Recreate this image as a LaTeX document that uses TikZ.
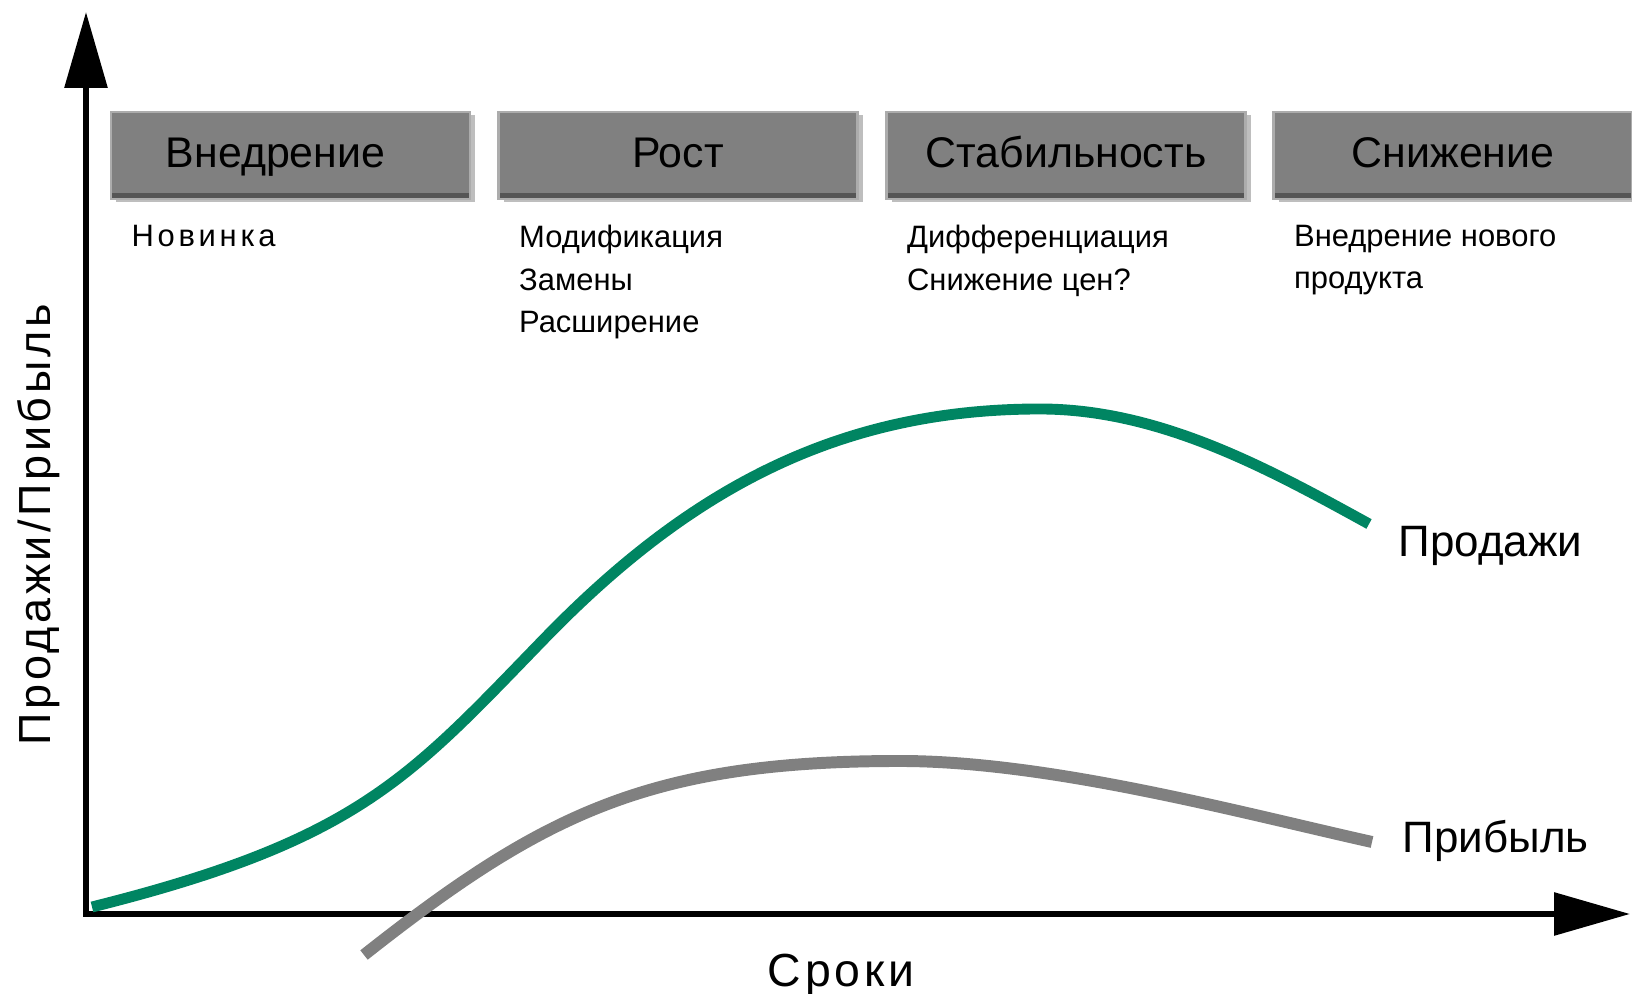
\documentclass[tikz,border=0pt]{standalone}
\usepackage{fontspec}
\setmainfont{Liberation Sans}
\newfontfamily\spacedfont[LetterSpace=8]{Liberation Sans}
\newfontfamily\widefont[LetterSpace=12]{Liberation Sans}
\usetikzlibrary{arrows.meta,positioning,shadows}
\definecolor{salesGreen}{RGB}{0,133,98}
\definecolor{profitGray}{RGB}{128,128,128}
\definecolor{phaseGray}{RGB}{128,128,128}
\definecolor{phaseDark}{RGB}{85,85,85}
\definecolor{phaseEdge}{RGB}{172,172,172}
\definecolor{phaseShadow}{RGB}{190,190,190}

\begin{document}
\begin{tikzpicture}[
    phase/.style={fill=phaseGray, draw=phaseEdge, line width=0.6pt, minimum width=3.59cm, minimum height=0.87cm, inner sep=0pt,
        text height=0.33cm, text depth=0.09cm, font=\fontsize{12.2}{14}\selectfont,
        drop shadow={shadow xshift=0.05cm, shadow yshift=-0.03cm, fill=phaseShadow, opacity=1},
        path picture={\fill[phaseDark] (path picture bounding box.south west) rectangle ([yshift=0.06cm]path picture bounding box.south east);}},
    note/.style={align=left, inner sep=0pt, font=\fontsize{8.8}{12.2}\selectfont},
    curvelabel/.style={inner sep=0pt, anchor=base west, font=\fontsize{12.5}{15}\selectfont},
    axis/.style={line width=1.7pt, {Triangle[length=0.76cm,width=0.42cm]}-{Triangle[length=0.76cm,width=0.42cm]}},
    sales/.style={salesGreen, line width=3.1pt},
    profit/.style={profitGray, line width=3.4pt}
]
    \useasboundingbox (0,0) rectangle (16.32,9.94);

    % Axes
    \coordinate (origin) at (0.86,0.80);
    \coordinate (ytop) at (0.86,9.82);
    \coordinate (xend) at (16.30,0.80);
    \draw[axis] (ytop) -- (origin) -- (xend);
    \node[rotate=90, anchor=base, inner sep=0pt, font=\fontsize{12.8}{15}\spacedfont] (ylabel) at (0.50,4.69) {Продажи/Прибыль};
    \node[anchor=base, inner sep=0pt, font=\fontsize{13.2}{15}\spacedfont] (xlabel) at (8.41,0.07) {Сроки};

    % Phases
    \node[phase] (intro) at (2.905,8.385) {Внедрение\hspace*{0.3cm}};
    \node[phase] (growth) at (6.78,8.385) {Рост};
    \node[phase] (maturity) at (10.66,8.385) {Стабильность};
    \node[phase] (decline) at (14.53,8.385) {Снижение};

    % Notes under the phases
    \node[note, font=\fontsize{8.8}{12.2}\widefont, below right=0.24cm and 0.21cm of intro.south west] (introtext) {Новинка};
    \node[note, below right=0.24cm and 0.21cm of growth.south west] (growthtext) {Модификация\\Замены\\Расширение};
    \node[note, below right=0.24cm and 0.21cm of maturity.south west] (maturitytext) {Дифференциация\\Снижение цен?};
    \node[note, below right=0.24cm and 0.21cm of decline.south west] (declinetext) {Внедрение нового\\продукта};

    % Curves
    \coordinate (salesend) at (13.69,4.70);
    \draw[sales] (0.92,0.87) .. controls (3.60,1.54) and (4.10,2.17) .. (5.46,3.57)
        .. controls (6.91,5.06) and (8.40,5.85) .. (10.40,5.85)
        .. controls (11.60,5.85) and (12.69,5.25) .. (salesend);
    \coordinate (profitend) at (13.72,1.52);
    \draw[profit] (3.64,0.39) .. controls (5.44,1.81) and (6.50,2.33) .. (9.00,2.33)
        .. controls (10.50,2.33) and (12.42,1.81) .. (profitend);

    \node[curvelabel] (saleslabel) at (13.98,4.37) {Продажи};
    \node[curvelabel] (profitlabel) at (14.02,1.41) {Прибыль};
\end{tikzpicture}
\end{document}
